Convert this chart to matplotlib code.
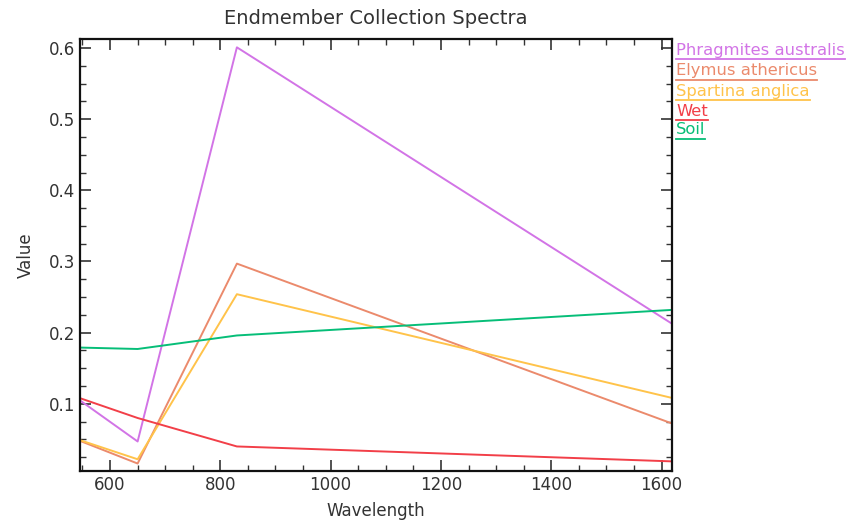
import matplotlib
matplotlib.use("Agg")
import matplotlib.pyplot as plt
from matplotlib.ticker import MultipleLocator
from matplotlib.lines import Line2D

wavelength = [545, 650, 830, 1620]
names = ["Phragmites australis", "Elymus athericus", "Spartina anglica", "Wet", "Soil"]
phragmites = [0.105, 0.047, 0.601, 0.212]
elymus = [0.048, 0.016, 0.297, 0.072]
spartina = [0.049, 0.022, 0.254, 0.108]
wet = [0.108, 0.080, 0.040, 0.019]
soil = [0.179, 0.177, 0.196, 0.232]
series = [phragmites, elymus, spartina, wet, soil]
colors = ["#D274E6", "#EB8A6C", "#FFC34A", "#F23F48", "#06BE78"]

plt.rcParams['font.family'] = ['DejaVu Sans']
fig = plt.figure(figsize=(8.49, 5.22), dpi=100)
ax = fig.add_axes([80/849, 1-471/522, (672-80)/849, (471-39)/522])

for vals, c in zip(series, colors):
    ax.plot(wavelength, vals, color=c, lw=1.4)

ax.set_xlim(545.5, 1619)
ax.set_ylim(0.0055, 0.6127)
ax.xaxis.set_major_locator(MultipleLocator(200))
ax.xaxis.set_minor_locator(MultipleLocator(50))
ax.yaxis.set_major_locator(MultipleLocator(0.1))
ax.yaxis.set_minor_locator(MultipleLocator(0.025))
ax.tick_params(which='both', direction='in', top=True, right=True, labelsize=12, colors='#333333')
ax.tick_params(which='major', length=8, width=1.2)
ax.tick_params(which='minor', length=4, width=1.0)
ax.yaxis.set_major_formatter(matplotlib.ticker.FuncFormatter(lambda v, p: f"{v:.1f}"))
for s in ax.spines.values():
    s.set_linewidth(1.6)
    s.set_color('#111111')

ax.set_title("Endmember Collection Spectra", fontsize=14, color='#333333', pad=11)
ax.set_xlabel("Wavelength", fontsize=12, color='#333333', labelpad=6)
ax.set_ylabel("Value", fontsize=12, color='#333333', labelpad=10)

fig.canvas.draw()
renderer = fig.canvas.get_renderer()
ys = [50, 71, 92, 111, 130]
for name, c, ypx in zip(names, colors, ys):
    t = fig.text(676/849, 1-ypx/522, name, color=c, fontsize=11.8, va='center', ha='left')
    bb = t.get_window_extent(renderer=renderer)
    yline = (bb.y0 - 1) / fig.bbox.height
    fig.add_artist(Line2D([bb.x0/fig.bbox.width, bb.x1/fig.bbox.width], [yline, yline],
                          color=c, lw=1.3, transform=fig.transFigure))

fig.savefig("out.png", dpi=100)
